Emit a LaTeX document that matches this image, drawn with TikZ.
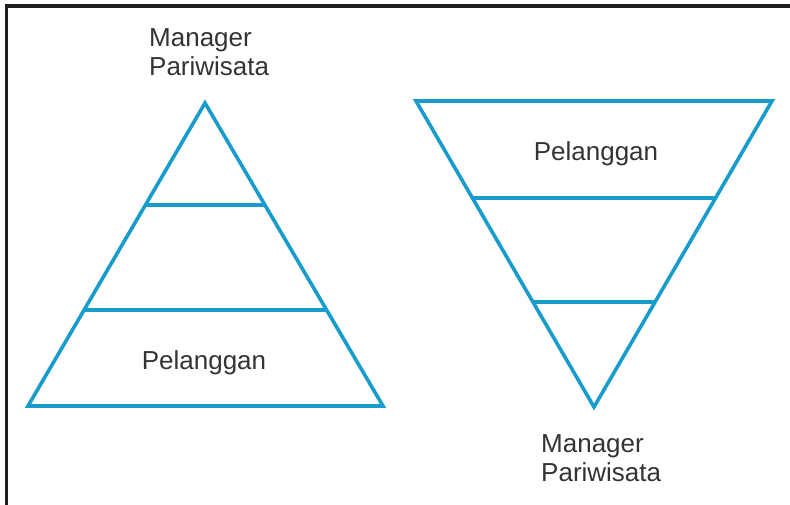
\documentclass[tikz,border=0pt]{standalone}
\usepackage{fontspec}
\setmainfont{Liberation Sans}
\usetikzlibrary{calc}
\definecolor{tierBlue}{RGB}{24,156,204}
\definecolor{frameGray}{RGB}{30,30,30}
\tikzset{
    tier/.style={draw=tierBlue, line width=3.6pt},
    lbl/.style={inner sep=0pt, font=\fontsize{26}{29}\selectfont, text=black!80},
}
\begin{document}
\begin{tikzpicture}[x=1pt, y=-1pt]
            \useasboundingbox (0, 0) rectangle (790, 505);
            % frame
            \draw[frameGray, line width=3.6pt] (790, 6) -- (6.5, 6) -- (6.5, 505);
            % pyramid
            \coordinate (la) at (205, 103);
            \coordinate (lb) at (28, 406);
            \coordinate (lc) at (383, 406);
            \draw[tier] (la) -- (lb) -- (lc) -- cycle;
            \foreach \f in {0.337, 0.683}
                \draw[tier] ($(la)!\f!(lb)$) -- ($(la)!\f!(lc)$);
            % inverted pyramid
            \coordinate (ra) at (594, 407);
            \coordinate (rb) at (416, 101);
            \coordinate (rc) at (772, 101);
            \draw[tier] (ra) -- (rb) -- (rc) -- cycle;
            \foreach \f in {0.343, 0.683}
                \draw[tier] ($(ra)!\f!(rb)$) -- ($(ra)!\f!(rc)$);
            % labels
            \node[lbl, align=left, anchor=north west] (mgrL) at (149, 28) {Manager\\Pariwisata};
            \node[lbl, anchor=base] (plgL) at (204, 369) {Pelanggan};
            \node[lbl, anchor=base] (plgR) at (596, 161) {Pelanggan};
            \node[lbl, align=left, anchor=north west] (mgrR) at (541, 434) {Manager\\Pariwisata};
        \end{tikzpicture}
\end{document}
